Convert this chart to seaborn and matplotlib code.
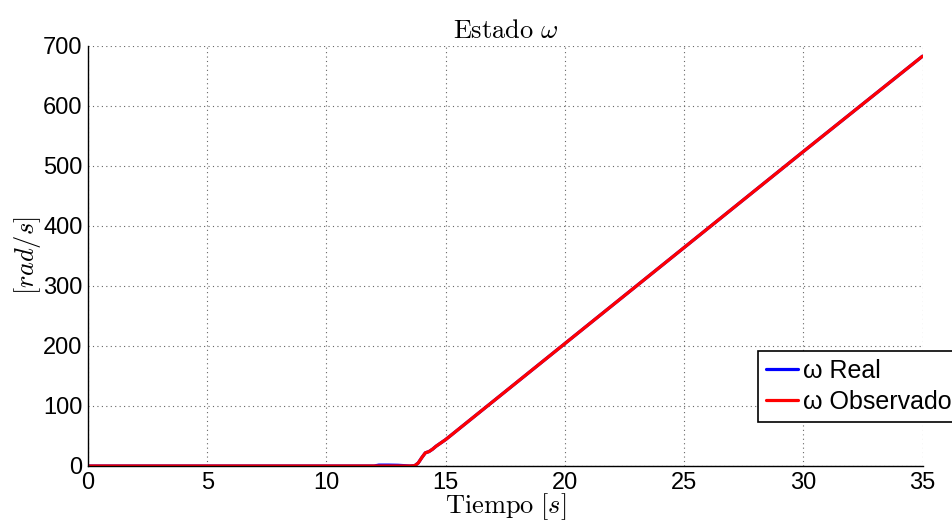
import matplotlib
matplotlib.use("Agg")
import matplotlib.pyplot as plt
import seaborn as sns
import pandas as pd

t_real = [0, 12.0, 12.2, 12.6, 13.0, 13.3, 13.5, 13.7, 13.85, 14.0, 14.15, 14.3, 14.45, 14.6, 15, 20, 25, 30, 35]
w_real = [0, 0, 1.5, 1.5, 1.2, 0.5, 0, 0.5, 5, 14, 22, 24, 28, 33, 44, 204, 364, 524, 683]
t_obs = [0, 12.0, 13.5, 13.7, 13.85, 14.0, 14.15, 14.3, 14.45, 14.6, 15, 20, 25, 30, 35]
w_obs = [0, 0, 0, 0.5, 5, 14, 22, 24, 28, 33, 44, 204, 364, 524, 683]
x_ticks = [0, 5, 10, 15, 20, 25, 30, 35]
y_ticks = [0, 100, 200, 300, 400, 500, 600, 700]
labels = ["ω Real", "ω Observado"]

sns.set_style("white")
plt.rcParams["font.family"] = ["Liberation Sans", "DejaVu Sans"]
plt.rcParams["mathtext.fontset"] = "cm"
plt.rcParams["text.color"] = "black"
plt.rcParams["axes.labelcolor"] = "black"

fig = plt.figure(figsize=(9.52, 5.25), dpi=100)
ax = fig.add_axes([88/952, 1-466/525, (922.5-88)/952, (466-46)/525])

df_r = pd.DataFrame({"t": t_real, "w": w_real})
df_o = pd.DataFrame({"t": t_obs, "w": w_obs})
sns.lineplot(data=df_r, x="t", y="w", ax=ax, color="#0000ff", lw=2.3, label=labels[0])
sns.lineplot(data=df_o, x="t", y="w", ax=ax, color="#ff0000", lw=2.3, label=labels[1])

ax.set_xlim(0, 35)
ax.set_ylim(0, 700)
ax.set_xticks(x_ticks)
ax.set_yticks(y_ticks)
ax.tick_params(direction="in", length=5, width=1, labelsize=17, colors="black", pad=4)
for s in ["top", "right"]:
    ax.spines[s].set_visible(False)
for s in ["left", "bottom"]:
    ax.spines[s].set_color("black")
    ax.spines[s].set_linewidth(1)
ax.grid(True, linestyle=(0, (1, 3)), color="#666666", linewidth=0.8)

ax.set_title(r"$\mathrm{Estado}\ \omega$", fontsize=19, pad=6, color="black")
ax.set_xlabel(r"$\mathrm{Tiempo}\ [s]$", fontsize=19, labelpad=-2, color="black")
ax.set_ylabel(r"$[rad/s]$", fontsize=19, labelpad=0, color="black")

leg = ax.legend(loc="upper left", bbox_to_anchor=(758/952, 1-351/525),
                bbox_transform=fig.transFigure, fontsize=18, frameon=True,
                fancybox=False, framealpha=1, edgecolor="black",
                handlelength=1.3, handletextpad=0.2, borderpad=0.3, labelspacing=0.3,
                borderaxespad=0)
leg.get_frame().set_linewidth(1.2)

fig.savefig("out.png", dpi=100)
